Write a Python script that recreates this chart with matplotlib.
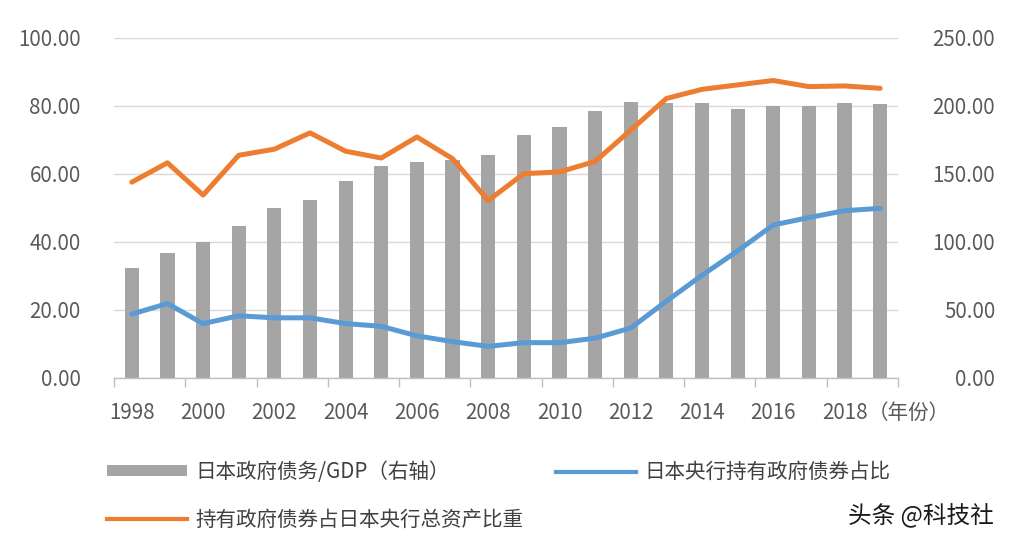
import matplotlib
matplotlib.use('Agg')
import matplotlib.pyplot as plt
from matplotlib.lines import Line2D
import numpy as np

plt.rcParams['font.family'] = ['Noto Sans CJK SC', 'DejaVu Sans']
plt.rcParams['font.weight'] = 'light'

# 数据
years = list(range(1998, 2020))
debt_gdp = [80.9, 92.1, 99.8, 112.0, 125.2, 130.9, 145.0, 156.0, 159.0, 160.3, 164.0,
            179.0, 184.8, 196.6, 203.0, 202.0, 202.0, 197.8, 200.2, 200.0, 202.5, 201.7]
boj_share = [18.8, 21.9, 16.0, 18.3, 17.7, 17.7, 16.0, 15.2, 12.4, 10.7, 9.3,
             10.4, 10.4, 11.7, 14.7, 22.6, 30.2, 37.4, 45.0, 47.2, 49.2, 49.9]
jgb_asset_share = [57.6, 63.3, 53.8, 65.5, 67.3, 72.1, 66.7, 64.7, 70.9, 64.5, 52.2,
                   60.1, 60.6, 63.7, 72.9, 82.2, 84.9, 86.2, 87.5, 85.7, 85.9, 85.2]
left_ticks = [0, 20, 40, 60, 80, 100]
right_ticks = [0, 50, 100, 150, 200, 250]
year_labels = [str(y) for y in years[::2]]

label_bar = '日本政府债务/GDP（右轴）'
label_blue = '日本央行持有政府债券占比'
label_orange = '持有政府债券占日本央行总资产比重'

GRAY = '#A5A5A5'
BLUE = '#5B9BD5'
ORANGE = '#ED7D31'
TXT = '#595959'
FS = 14.8

fig = plt.figure(figsize=(10.26, 5.48), dpi=100)
ax = fig.add_axes([114 / 1026, 1 - 378 / 548, 784 / 1026, 340 / 548])
ax2 = ax.twinx()
ax.set_zorder(ax2.get_zorder() + 1)
ax.patch.set_visible(False)

x = np.arange(len(years))

# 柱状图（右轴）
bars = ax2.bar(x, debt_gdp, width=0.4, color=GRAY, label=label_bar)
ax2.set_ylim(0, 250)
ax2.set_yticks(right_ticks)
ax2.set_yticklabels([f'{v:.2f}' for v in right_ticks])
ax2.yaxis.grid(True, color='#D9D9D9', linewidth=1)
ax2.set_axisbelow(True)
ax2.tick_params(axis='y', length=0, pad=70, labelsize=FS, colors=TXT)
plt.setp(ax2.get_yticklabels(), ha='right')

# 折线（左轴）
l_orange, = ax.plot(x, jgb_asset_share, color=ORANGE, linewidth=3.6,
                    solid_joinstyle='round', solid_capstyle='round', label=label_orange)
l_blue, = ax.plot(x, boj_share, color=BLUE, linewidth=3.6,
                  solid_joinstyle='round', solid_capstyle='round', label=label_blue)
ax.set_ylim(0, 100)
ax.set_yticks(left_ticks)
ax.set_yticklabels([f'{v:.2f}' for v in left_ticks])
ax.tick_params(axis='y', length=0, pad=24, labelsize=FS, colors=TXT)

ax.set_xlim(-0.5, len(years) - 0.5)
ax.set_xticks(np.arange(-0.5, len(years), 2))
ax.set_xticklabels([])
ax.set_xticks(x[::2], year_labels, minor=True)
ax.tick_params(axis='x', which='major', length=6.5, color='#BFBFBF', width=1, direction='out')
ax.tick_params(axis='x', which='minor', length=0, pad=17, labelsize=FS, labelcolor=TXT)
ax.annotate('（年份）', xy=(20, 0), xycoords=('data', 'axes fraction'),
            xytext=(17, -17), textcoords='offset points', ha='left', va='top',
            fontsize=FS, color=TXT)

for a in (ax, ax2):
    for s in ('top', 'left', 'right'):
        a.spines[s].set_visible(False)
ax2.spines['bottom'].set_visible(False)
ax.spines['bottom'].set_color('#BFBFBF')
ax.spines['bottom'].set_linewidth(1)

h_orange = Line2D([], [], color=ORANGE, linewidth=3)
h_blue = Line2D([], [], color=BLUE, linewidth=3)
fig.legend([bars, h_orange, h_blue], [label_bar, label_orange, label_blue],
           loc='upper left', bbox_to_anchor=(107 / 1026, 1 - 461 / 548), ncol=2,
           frameon=False, fontsize=FS, labelcolor='#404040', handlelength=3.9,
           handleheight=0.4, handletextpad=0.4, columnspacing=1.6,
           labelspacing=1.25, borderpad=0, borderaxespad=0)

fig.text(848 / 1026, 1 - 516 / 548, '头条 @科技社', fontsize=17, ha='left', va='center',
         color='#1a1a1a', fontweight='normal')

fig.savefig('out.png', dpi=100)
